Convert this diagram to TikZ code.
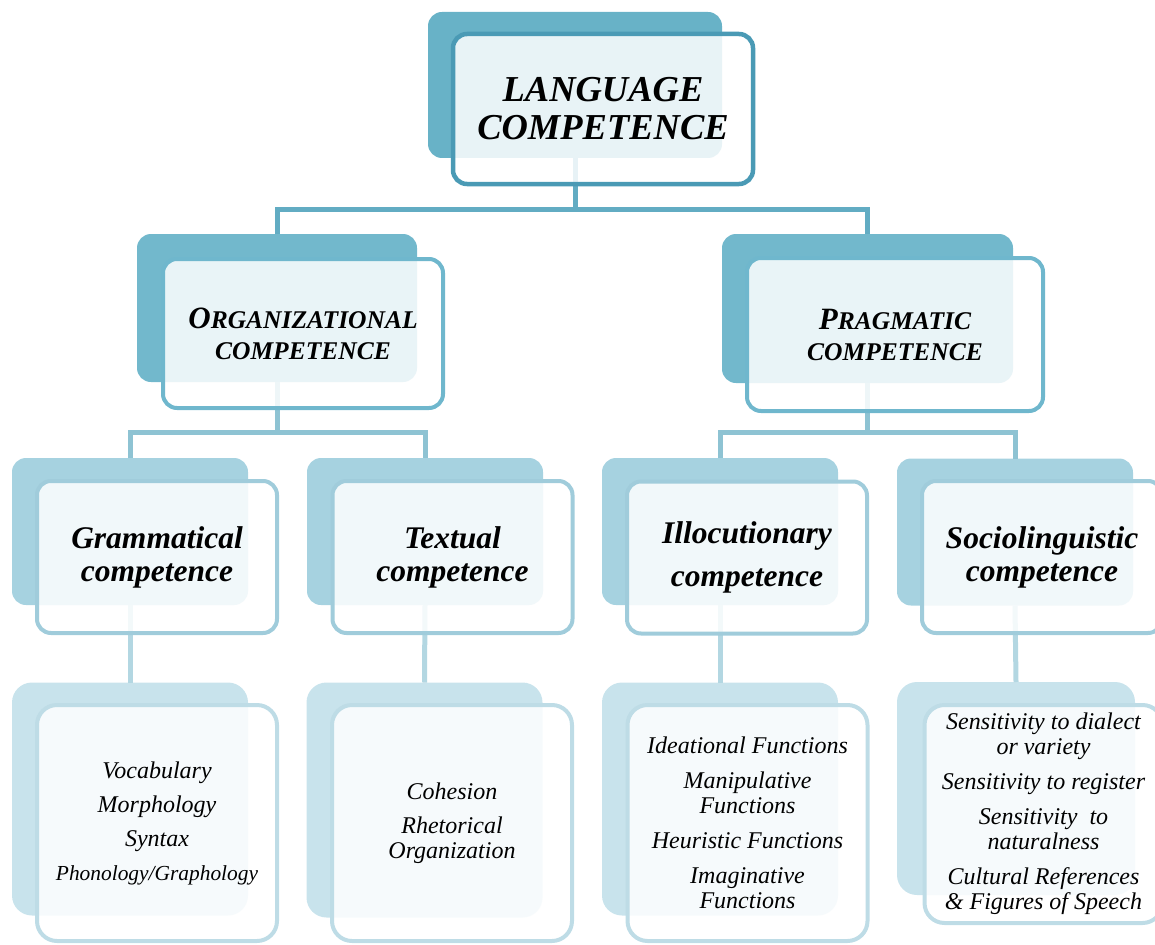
\documentclass[tikz,border=0pt]{standalone}
\usepackage{fontspec}
\setmainfont{Liberation Serif}
\definecolor{topback}{HTML}{68B2C7}
\definecolor{topline}{HTML}{4A9AB5}
\definecolor{midback}{HTML}{72B8CC}
\definecolor{midline}{HTML}{6FB7CD}
\definecolor{lowback}{HTML}{A6D2E0}
\definecolor{lowline}{HTML}{A0CCDB}
\definecolor{leafback}{HTML}{C8E3EC}
\definecolor{leafline}{HTML}{BEDCE6}
\definecolor{conA}{HTML}{62ACC3}
\definecolor{conB}{HTML}{8EC3D3}
\definecolor{conC}{HTML}{B3D7E2}
\tikzset{
  backbox/.style={rectangle, rounded corners=14pt, inner sep=0pt, outer sep=0pt},
  frontbox/.style={rectangle, rounded corners=14pt, inner sep=0pt, outer sep=0pt,
    fill=white, fill opacity=0.85, text opacity=1, align=center, line width=4pt},
  conn/.style={line width=5pt},
  hdtop/.style={font=\fontsize{36.5}{38}\selectfont\bfseries\itshape},
  hdmid/.style={font=\fontsize{25.5}{31}\selectfont\bfseries\itshape},
  hdlow/.style={font=\fontsize{31.5}{33}\selectfont\bfseries\itshape},
  leaftxt/.style={font=\fontsize{24}{25}\selectfont\itshape},
}
\newcommand{\bigletter}[1]{{\fontsize{31}{31}\selectfont #1}}
\begin{document}
\begin{tikzpicture}[x=1pt,y=-1pt]
\useasboundingbox (0,0) rectangle (1155,944);
% junction coordinates
\coordinate (j1) at (575,209);
\coordinate (j2) at (277,432);
\coordinate (j3) at (867.5,432);
% back boxes
\node[backbox, fill=topback, minimum width=294pt, minimum height=146pt] (topb) at (575,85) {};
\node[backbox, fill=midback, minimum width=280pt, minimum height=148pt] (orgb) at (277,308) {};
\node[backbox, fill=midback, minimum width=291pt, minimum height=149pt] (pragb) at (867.5,308.5) {};
\node[backbox, fill=lowback, minimum width=236pt, minimum height=147pt] (gramb) at (130,531.5) {};
\node[backbox, fill=lowback, minimum width=236pt, minimum height=147pt] (textb) at (425,531.5) {};
\node[backbox, fill=lowback, minimum width=236pt, minimum height=147pt] (illb) at (720,531.5) {};
\node[backbox, fill=lowback, minimum width=236pt, minimum height=147pt] (socb) at (1015,532) {};
\node[backbox, fill=leafback, rounded corners=20pt, minimum width=236pt, minimum height=233pt] (gramlb) at (130,799) {};
\node[backbox, fill=leafback, rounded corners=20pt, minimum width=236pt, minimum height=235pt] (textlb) at (424.5,800) {};
\node[backbox, fill=leafback, rounded corners=20pt, minimum width=236pt, minimum height=233pt] (illlb) at (720,799) {};
\node[backbox, fill=leafback, rounded corners=20pt, minimum width=238pt, minimum height=213pt] (soclb) at (1016,788.5) {};
% connectors
\draw[conn, conA] (topb.south) -- (j1);
\draw[conn, conA] (orgb.north) |- (j1) -| (pragb.north);
\draw[conn, conB] (orgb.south) -- (j2);
\draw[conn, conB] (gramb.north) |- (j2) -| (textb.north);
\draw[conn, conB] (pragb.south) -- (j3);
\draw[conn, conB] (illb.north) |- (j3) -| (socb.north);
\draw[conn, conC] (gramb.south) -- (gramlb.north);
\draw[conn, conC] (textb.south) -- (textlb.north);
\draw[conn, conC] (illb.south) -- (illlb.north);
\draw[conn, conC] (socb.south) -- (soclb.north);
% front boxes
\node[frontbox, draw=topline, line width=4.5pt, minimum width=300pt, minimum height=150pt, hdtop] (top) at (603,109) {LANGUAGE\\COMPETENCE};
\node[frontbox, draw=midline, minimum width=280pt, minimum height=149pt, hdmid] (org) at (303,333.5) {\bigletter{O}RGANIZATIONAL\\COMPETENCE};
\node[frontbox, draw=midline, minimum width=296pt, minimum height=153pt, hdmid] (prag) at (895,334.5) {\bigletter{P}RAGMATIC\\COMPETENCE};
\node[frontbox, draw=lowline, minimum width=240pt, minimum height=152pt, hdlow] (gram) at (157,557) {Grammatical\\competence};
\node[frontbox, draw=lowline, minimum width=240pt, minimum height=152pt, hdlow] (text) at (452.5,557) {Textual\\competence};
\node[frontbox, draw=lowline, minimum width=240pt, minimum height=152pt, hdlow] (ill) at (747,557.5) {Illocutionary\\[10pt]competence};
\node[frontbox, draw=lowline, minimum width=240pt, minimum height=152pt, hdlow] (soc) at (1042,557) {Sociolinguistic\\competence};
\node[frontbox, draw=leafline, rounded corners=20pt, minimum width=240pt, minimum height=236pt, leaftxt] (graml) at (157,823)
  {Vocabulary\\[9pt]Morphology\\[9pt]Syntax\\[9pt]{\fontsize{21.4}{25}\selectfont Phonology/Graphology}};
\node[frontbox, draw=leafline, rounded corners=20pt, minimum width=240pt, minimum height=236pt, leaftxt] (textl) at (452,823)
  {Cohesion\\[9pt]Rhetorical\\Organization};
\node[frontbox, draw=leafline, rounded corners=20pt, minimum width=240pt, minimum height=236pt, leaftxt] (illl) at (747.5,823)
  {Ideational Functions\\[10pt]Manipulative\\Functions\\[10pt]Heuristic Functions\\[10pt]Imaginative\\Functions};
\node[frontbox, draw=leafline, rounded corners=20pt, minimum width=238pt, minimum height=218pt, leaftxt] (socl) at (1043.5,814)
  {Sensitivity to dialect\\or variety\\[10pt]Sensitivity to register\\[10pt]Sensitivity\ \ to\\naturalness\\[10pt]Cultural References\\\& Figures of Speech};
\end{tikzpicture}
\end{document}
